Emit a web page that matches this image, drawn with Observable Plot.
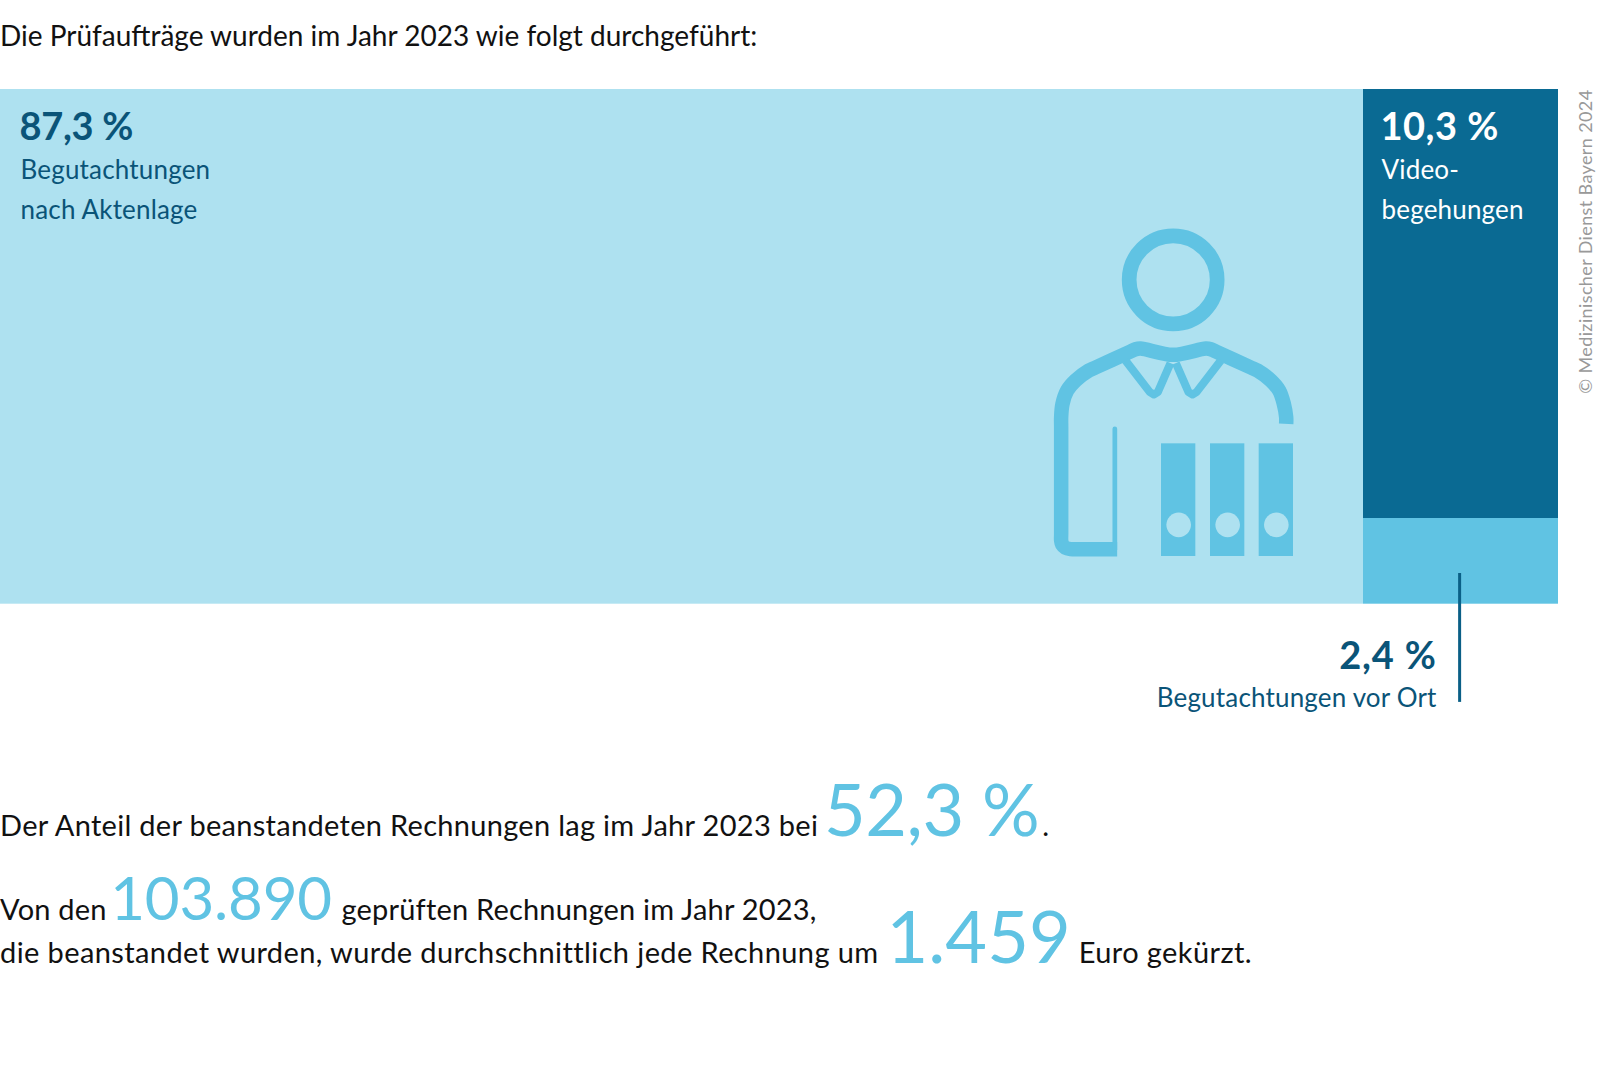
<!DOCTYPE html>
<html lang="de">
<head>
<meta charset="utf-8">
<script src="https://cdn.jsdelivr.net/npm/d3@7"></script>
<script src="https://cdn.jsdelivr.net/npm/@observablehq/plot@0.6"></script>
<style>
  html, body { margin: 0; padding: 0; background: #fff; }
  body { width: 1600px; height: 1079px; position: relative; overflow: hidden;
         font-family: Lato, sans-serif; color: #111; }
  #title { position: absolute; left: 0; top: 15px; font-size: 28px; line-height: 40px; letter-spacing: 0; white-space: nowrap; }
  #chart { position: absolute; left: 0; top: 89px; }
  #icon { position: absolute; left: 1020px; top: 210px; }
  #chart svg, #icon svg { display: block; background: transparent; overflow: visible; }
  .line { position: absolute; left: 0; font-size: 29px; line-height: 40px; white-space: nowrap; }
  .big { color: #60c3e3; font-weight: 400; line-height: 0; }
  .share-name { letter-spacing: 0.18px; }
  .share-tight { letter-spacing: -0.3px; }
  .share-wide { letter-spacing: 0.5px; }
  .share-widest { letter-spacing: 0.8px; }
  .credit { letter-spacing: 0.38px; }
</style>
</head>
<body>
<div id="title"></div>
<div id="chart"></div>
<div id="icon"></div>
<div id="notes"></div>
<script>
const titleText = "Die Prüfaufträge wurden im Jahr 2023 wie folgt durchgeführt:";
const credit = "© Medizinischer Dienst Bayern 2024";

const shareNames = [["Begutachtungen", "nach Aktenlage"], ["Video-", "begehungen"], ["Begutachtungen vor Ort"]];
const shareValues = [87.3, 10.3, 2.4];
const shareLabels = ["87,3 %", "10,3 %", "2,4 %"];
const boxColors = ["#aee1f0", "#0a6a93", "#60c3e3"];

// Left box takes the full height of the right column, which stacks the other two shares.
const columnTotal = shareValues[1] + shareValues[2];
const boxes = [
  {x1: 0, x2: shareValues[0], y1: 0, y2: columnTotal, fill: boxColors[0]},
  {x1: shareValues[0], x2: 100, y1: 0, y2: shareValues[1], fill: boxColors[1]},
  {x1: shareValues[0], x2: 100, y1: shareValues[1], y2: columnTotal, fill: boxColors[2]}
];

const textDark = "#0a5478";
const valueFont = {fontFamily: "Lato", fontSize: 38, fontWeight: 700, lineAnchor: "bottom"};
const nameFont = {fontFamily: "Lato", fontSize: 26, fontWeight: 400, lineAnchor: "bottom", className: "share-name"};
const topLabels = [
  {x: boxes[0].x1, y: boxes[0].y1, pad: 20, color: textDark, value: shareLabels[0], names: shareNames[0], cls: "share-tight"},
  {x: boxes[1].x1, y: boxes[1].y1, pad: 18, color: "#ffffff", value: shareLabels[1], names: shareNames[1], cls: "share-wide"}
];
const leaderX = 93.56;
const leaderY = [11.84, 15.45];

const chart = Plot.plot({
  width: 1600, height: 640,
  margin: 0,
  x: {type: "linear", domain: [0, shareValues[0], 100], range: [0, 1363, 1558], axis: null},
  y: {type: "linear", domain: [0, shareValues[1], columnTotal], range: [0, 429, 514.7], axis: null},
  marks: [
    Plot.rect(boxes, {x1: "x1", x2: "x2", y1: "y1", y2: "y2", fill: "fill"}),
    topLabels.map(d => [
      Plot.text([d.value], {x: d.x, y: d.y, text: v => v, fill: d.color, textAnchor: "start", dx: d.pad - 1, dy: 50, ...valueFont, className: d.cls}),
      Plot.text([d.names[0]], {x: d.x, y: d.y, text: v => v, fill: d.color, textAnchor: "start", dx: d.pad, dy: 89, ...nameFont}),
      Plot.text([d.names[1]], {x: d.x, y: d.y, text: v => v, fill: d.color, textAnchor: "start", dx: d.pad, dy: 129, ...nameFont})
    ]),
    Plot.ruleX([leaderX], {y1: leaderY[0], y2: leaderY[1], stroke: "#0a5f86", strokeWidth: 3}),
    Plot.text([shareLabels[2]], {x: leaderX, y: columnTotal, text: d => d, fill: textDark, textAnchor: "end", dx: -23, dy: 65, ...valueFont, className: "share-widest"}),
    Plot.text([shareNames[2][0]], {x: leaderX, y: columnTotal, text: d => d, fill: textDark, textAnchor: "end", dx: -23, dy: 103, ...nameFont}),
    Plot.text([credit], {x: 100, y: 0, text: d => d, rotate: -90, textAnchor: "end", dx: 28, fill: "#999999", fontFamily: "Lato", fontSize: 18, className: "credit"})
  ]
});
document.getElementById("chart").append(chart);

// Pictogram, in its own 900 x 1080 drawing units
const iconColor = "#60c3e3";
const iconBody = [[290,1016],[170,1016],[150,1016],[135,1012],[125,1002],[122,990],[122,970],[122,650],[122,620],[126,580],[140,540],[165,510],[205,480],[225,471],[330,423],[345,416],[360,414],[458,433],[556,414],[571,416],[586,423],[691,471],[711,480],[751,510],[776,540],[790,580],[797,620],[797,640]];
const iconCollarLeft = [[315,450],[388,545],[400,552],[412,545],[450,458]];
const iconCollarRight = [[601,450],[528,545],[516,552],[504,545],[466,458]];
const iconSleeve = [[283,655],[283,1016]];
const binderX = [[423,526],[570,673],[716,819]];
const binderY = [700, 1038];
const binderHoleY = 943;
const icon = Plot.plot({
  width: 300, height: 360, margin: 0,
  x: {domain: [0, 900], range: [0, 300], axis: null},
  y: {domain: [0, 1080], range: [0, 360], axis: null},
  marks: [
    Plot.dot([[458, 208]], {x: "0", y: "1", r: 44, stroke: iconColor, strokeWidth: 14.7, fill: "none"}),
    Plot.line(iconBody, {x: "0", y: "1", stroke: iconColor, strokeWidth: 14.5, curve: "catmull-rom", strokeLinejoin: "round", strokeLinecap: "butt"}),
    Plot.line(iconCollarLeft, {x: "0", y: "1", stroke: iconColor, strokeWidth: 8, strokeLinejoin: "round", strokeLinecap: "butt"}),
    Plot.line(iconCollarRight, {x: "0", y: "1", stroke: iconColor, strokeWidth: 8, strokeLinejoin: "round", strokeLinecap: "butt"}),
    Plot.line(iconSleeve, {x: "0", y: "1", stroke: iconColor, strokeWidth: 4.7}),
    Plot.rect(binderX, {x1: "0", x2: "1", y1: binderY[0], y2: binderY[1], fill: iconColor}),
    Plot.dot(binderX, {x: d => (d[0] + d[1]) / 2, y: binderHoleY, r: 12.3, fill: boxColors[0], stroke: "none"})
  ]
});
document.getElementById("icon").append(icon);

document.getElementById("title").textContent = titleText;

// Running text with the highlighted figures: [text, font size, letter spacing, left margin, right margin]
const noteLines = [
  {top: 805, spacing: 0.3, parts: ["Der Anteil der beanstandeten Rechnungen lag im Jahr 2023 bei ", ["52,3 %", 72, -0.4, -2, 3], "."]},
  {top: 889, spacing: 0.2, parts: ["Von den ", ["103.890", 60, -0.2, -4, 2], " geprüften Rechnungen im Jahr 2023,"]},
  {top: 932, spacing: 0.4, parts: ["die beanstandet wurden, wurde durchschnittlich jede Rechnung um ", ["1.459", 72, 0.1, 0, 0], " Euro gekürzt."]}
];
const notes = document.getElementById("notes");
for (const l of noteLines) {
  const div = document.createElement("div");
  div.className = "line";
  div.style.top = l.top + "px";
  div.style.letterSpacing = l.spacing + "px";
  for (const p of l.parts) {
    if (typeof p === "string") div.append(p);
    else {
      const s = document.createElement("span");
      s.className = "big";
      s.style.fontSize = p[1] + "px";
      s.style.letterSpacing = p[2] + "px";
      s.style.marginLeft = p[3] + "px";
      s.style.marginRight = p[4] + "px";
      s.textContent = p[0];
      div.append(s);
    }
  }
  notes.append(div);
}
</script>
</body>
</html>
